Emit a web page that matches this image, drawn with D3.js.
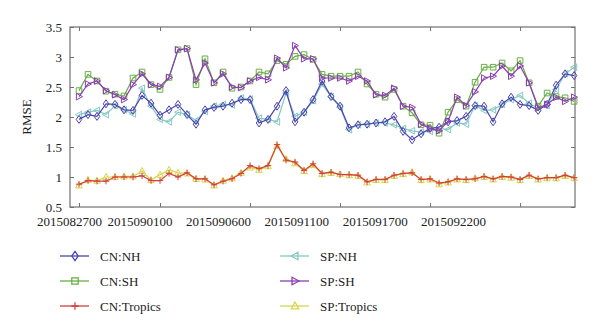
<!doctype html>
<html>
  <head>
    <style>
      body { margin: 0; background: #fff; }
    </style>
  </head>
  <body>
    <svg width="600" height="335" id="content"></svg>

    <script src="https://cdnjs.cloudflare.com/ajax/libs/d3/7.8.5/d3.min.js"></script>
    <script>
      // 12-hourly steps, 56 points
      const tickIndex = [0, 9, 19, 29, 39, 49]
      const tickLabels = ['2015082700', '2015090100', '2015090600', '2015091100', '2015091700', '2015092200']
      const yTicks = [0.5, 1, 1.5, 2, 2.5, 3, 3.5]

      const cnNH = [1.96, 2.04, 2.01, 2.22, 2.21, 2.12, 2.11, 2.36, 2.23, 2.03,
        2.12, 2.21, 2.04, 1.88, 2.12, 2.16, 2.18, 2.23, 2.29, 2.29,
        1.90, 1.96, 2.18, 2.44, 1.92, 2.08, 2.29, 2.60, 2.34, 2.18,
        1.82, 1.87, 1.88, 1.90, 1.92, 2.01, 1.76, 1.62, 1.72, 1.81,
        1.83, 1.92, 1.94, 2.01, 2.19, 2.18, 1.92, 2.22, 2.33, 2.21,
        2.19, 2.11, 2.21, 2.53, 2.72, 2.69]
      const spNH = [2.04, 2.08, 2.11, 2.04, 2.19, 2.12, 2.05, 2.48, 2.18, 1.96,
        1.92, 2.08, 2.04, 1.94, 2.09, 2.18, 2.21, 2.20, 2.32, 2.30,
        1.98, 1.96, 1.92, 2.40, 2.01, 2.08, 2.27, 2.55, 2.34, 2.16,
        1.79, 1.87, 1.88, 1.90, 1.90, 1.87, 1.81, 1.77, 1.75, 1.76,
        1.81, 1.79, 1.90, 1.88, 2.19, 2.11, 2.12, 2.21, 2.29, 2.36,
        2.23, 2.14, 2.19, 2.46, 2.72, 2.83]
      const cnSH = [2.44, 2.71, 2.60, 2.43, 2.38, 2.35, 2.65, 2.75, 2.54, 2.46,
        2.66, 3.12, 3.14, 2.54, 2.97, 2.57, 2.75, 2.48, 2.50, 2.60,
        2.75, 2.72, 2.94, 2.88, 3.01, 3.04, 2.96, 2.71, 2.68, 2.68,
        2.68, 2.75, 2.55, 2.38, 2.33, 2.46, 2.18, 2.07, 1.87, 1.86,
        1.73, 2.08, 2.29, 2.18, 2.58, 2.83, 2.83, 2.90, 2.77, 2.94,
        2.57, 2.18, 2.40, 2.34, 2.32, 2.26]
      const spSH = [2.34, 2.55, 2.60, 2.44, 2.37, 2.29, 2.54, 2.72, 2.54, 2.51,
        2.66, 3.12, 3.14, 2.62, 2.90, 2.57, 2.72, 2.50, 2.49, 2.60,
        2.66, 2.62, 2.98, 2.82, 3.19, 2.97, 2.97, 2.65, 2.65, 2.65,
        2.60, 2.68, 2.60, 2.37, 2.36, 2.48, 2.18, 2.16, 1.88, 1.81,
        1.77, 1.93, 2.33, 2.19, 2.42, 2.65, 2.68, 2.85, 2.68, 2.85,
        2.57, 2.15, 2.21, 2.33, 2.26, 2.33]
      const cnTrop = [0.88, 0.94, 0.93, 0.93, 1.00, 1.00, 1.00, 1.02, 0.94, 0.94,
        1.06, 1.00, 1.07, 0.97, 0.97, 0.87, 0.93, 0.97, 1.06, 1.19,
        1.14, 1.19, 1.54, 1.28, 1.25, 1.11, 1.22, 1.06, 1.08, 1.04,
        1.04, 1.03, 0.92, 0.96, 0.96, 1.03, 1.06, 1.07, 0.96, 0.97,
        0.90, 0.92, 0.97, 0.96, 0.97, 1.01, 0.97, 1.01, 1.00, 0.96,
        1.03, 0.97, 0.99, 0.99, 1.03, 0.99]
      const spTrop = [0.86, 0.95, 0.94, 1.00, 1.00, 1.01, 1.01, 1.10, 0.95, 1.04,
        1.12, 1.07, 1.06, 0.97, 0.96, 0.86, 0.94, 0.98, 1.07, 1.16,
        1.12, 1.18, 1.52, 1.30, 1.23, 1.10, 1.20, 1.05, 1.07, 1.05,
        1.03, 1.02, 0.91, 0.95, 0.95, 1.02, 1.05, 1.08, 0.95, 0.96,
        0.88, 0.91, 0.96, 0.95, 0.98, 1.00, 0.96, 1.00, 0.99, 0.95,
        1.02, 0.96, 0.98, 0.98, 1.02, 0.98]

      const markers = {
        diamond: 'M0,-4L2.8,0L0,4L-2.8,0Z',
        square: 'M-2.8,-2.8h5.6v5.6h-5.6Z',
        plus: 'M-3.2,0H3.2M0,-3.2V3.2',
        left: 'M-3.5,0L2.6,-3.3L2.6,3.3Z',
        right: 'M3.5,0L-2.6,-3.3L-2.6,3.3Z',
        up: 'M0,-3.5L3.3,2.6L-3.3,2.6Z'
      }

      const series = [
        { name: 'CN:NH', values: cnNH, color: '#4b45b0', marker: 'diamond' },
        { name: 'CN:SH', values: cnSH, color: '#69ae45', marker: 'square' },
        { name: 'CN:Tropics', values: cnTrop, color: '#d4403a', marker: 'plus' },
        { name: 'SP:NH', values: spNH, color: '#86c8c4', marker: 'left' },
        { name: 'SP:SH', values: spSH, color: '#8c3eb2', marker: 'right' },
        { name: 'SP:Tropics', values: spTrop, color: '#d6d64c', marker: 'up' }
      ]
      // drawing order (last on top)
      const drawOrder = ['SP:Tropics', 'CN:Tropics', 'SP:NH', 'CN:NH', 'CN:SH', 'SP:SH']

      const serif = '"Liberation Serif", "Times New Roman", "DejaVu Serif", serif'

      const svg = d3.select('#content')
      const mLeft = 70, mRight = 575, mTop = 27, mBottom = 207

      const x = d3.scaleLinear().domain([-1, 55.1]).range([mLeft, mRight])
      // the tick labels in the figure sit on a slightly compressed grid
      const xLabel = d3.scaleLinear().domain([0, 49]).range([69, 453])
      const y = d3.scaleLinear().domain([0.5, 3.5]).range([mBottom, mTop])

      const axisColor = '#707070'

      function styleAxis (g) {
        g.attr('font-family', null).attr('font-size', null)
        g.selectAll('.domain').remove()
        g.selectAll('line').attr('stroke', axisColor)
        g.selectAll('text')
          .attr('fill', '#222')
          .style('font-family', serif)
          .style('font-size', '13px')
      }

      svg.append('g')
        .attr('transform', `translate(0,${mBottom})`)
        .call(d3.axisBottom(x).tickValues(tickIndex).tickSize(-4).tickFormat(''))
        .call(styleAxis)
      svg.append('g')
        .attr('transform', `translate(0,${mTop})`)
        .call(d3.axisTop(x).tickValues(tickIndex).tickSize(-4).tickFormat(''))
        .call(styleAxis)
      svg.append('g')
        .attr('transform', `translate(0,${mBottom})`)
        .call(d3.axisBottom(xLabel).tickValues(tickIndex).tickSize(0).tickPadding(10)
          .tickFormat((d, i) => tickLabels[i]))
        .call(styleAxis)

      svg.append('g')
        .attr('transform', `translate(${mLeft},0)`)
        .call(d3.axisLeft(y).tickValues(yTicks).tickSize(-4).tickPadding(8).tickFormat(d => String(d)))
        .call(styleAxis)
      svg.append('g')
        .attr('transform', `translate(${mRight},0)`)
        .call(d3.axisRight(y).tickValues(yTicks).tickSize(-4).tickFormat(''))
        .call(styleAxis)

      svg.append('rect')
        .attr('x', mLeft).attr('y', mTop)
        .attr('width', mRight - mLeft).attr('height', mBottom - mTop)
        .attr('fill', 'none')
        .attr('stroke', axisColor)
        .attr('stroke-width', 1.2)

      svg.append('text')
        .attr('transform', `translate(31,${(mTop + mBottom) / 2}) rotate(-90)`)
        .attr('text-anchor', 'middle')
        .style('font-family', serif)
        .style('font-size', '13px')
        .attr('fill', '#222')
        .text('RMSE')

      const line = d3.line().x((d, i) => x(i)).y(d => y(d))

      drawOrder.forEach(name => {
        const s = series.find(d => d.name === name)
        const g = svg.append('g')
        g.append('path')
          .attr('d', line(s.values))
          .attr('fill', 'none')
          .attr('stroke', s.color)
          .attr('stroke-width', 1.2)
        g.selectAll('path.mark')
          .data(s.values)
          .enter().append('path')
          .attr('class', 'mark')
          .attr('d', markers[s.marker])
          .attr('transform', (d, i) => `translate(${x(i)},${y(d)})`)
          .attr('fill', 'none')
          .attr('stroke', s.color)
          .attr('stroke-width', 1)
      })

      // legend, two columns of three
      const legend = svg.append('g')
      series.forEach((s, i) => {
        const col = Math.floor(i / 3)
        const row = i % 3
        const g = legend.append('g')
          .attr('transform', `translate(${60 + col * 220},${256 + row * 25})`)
        g.append('line')
          .attr('x1', 0).attr('x2', 29)
          .attr('stroke', s.color)
          .attr('stroke-width', 1.3)
        g.append('path')
          .attr('d', markers[s.marker])
          .attr('transform', 'translate(15,0) scale(1.15)')
          .attr('fill', 'none')
          .attr('stroke', s.color)
          .attr('stroke-width', 1.1)
        g.append('text')
          .attr('x', 40).attr('y', 4.5)
          .style('font-family', serif)
          .style('font-size', '13px')
          .attr('fill', '#222')
          .text(s.name)
      })
    </script>
  </body>
</html>
